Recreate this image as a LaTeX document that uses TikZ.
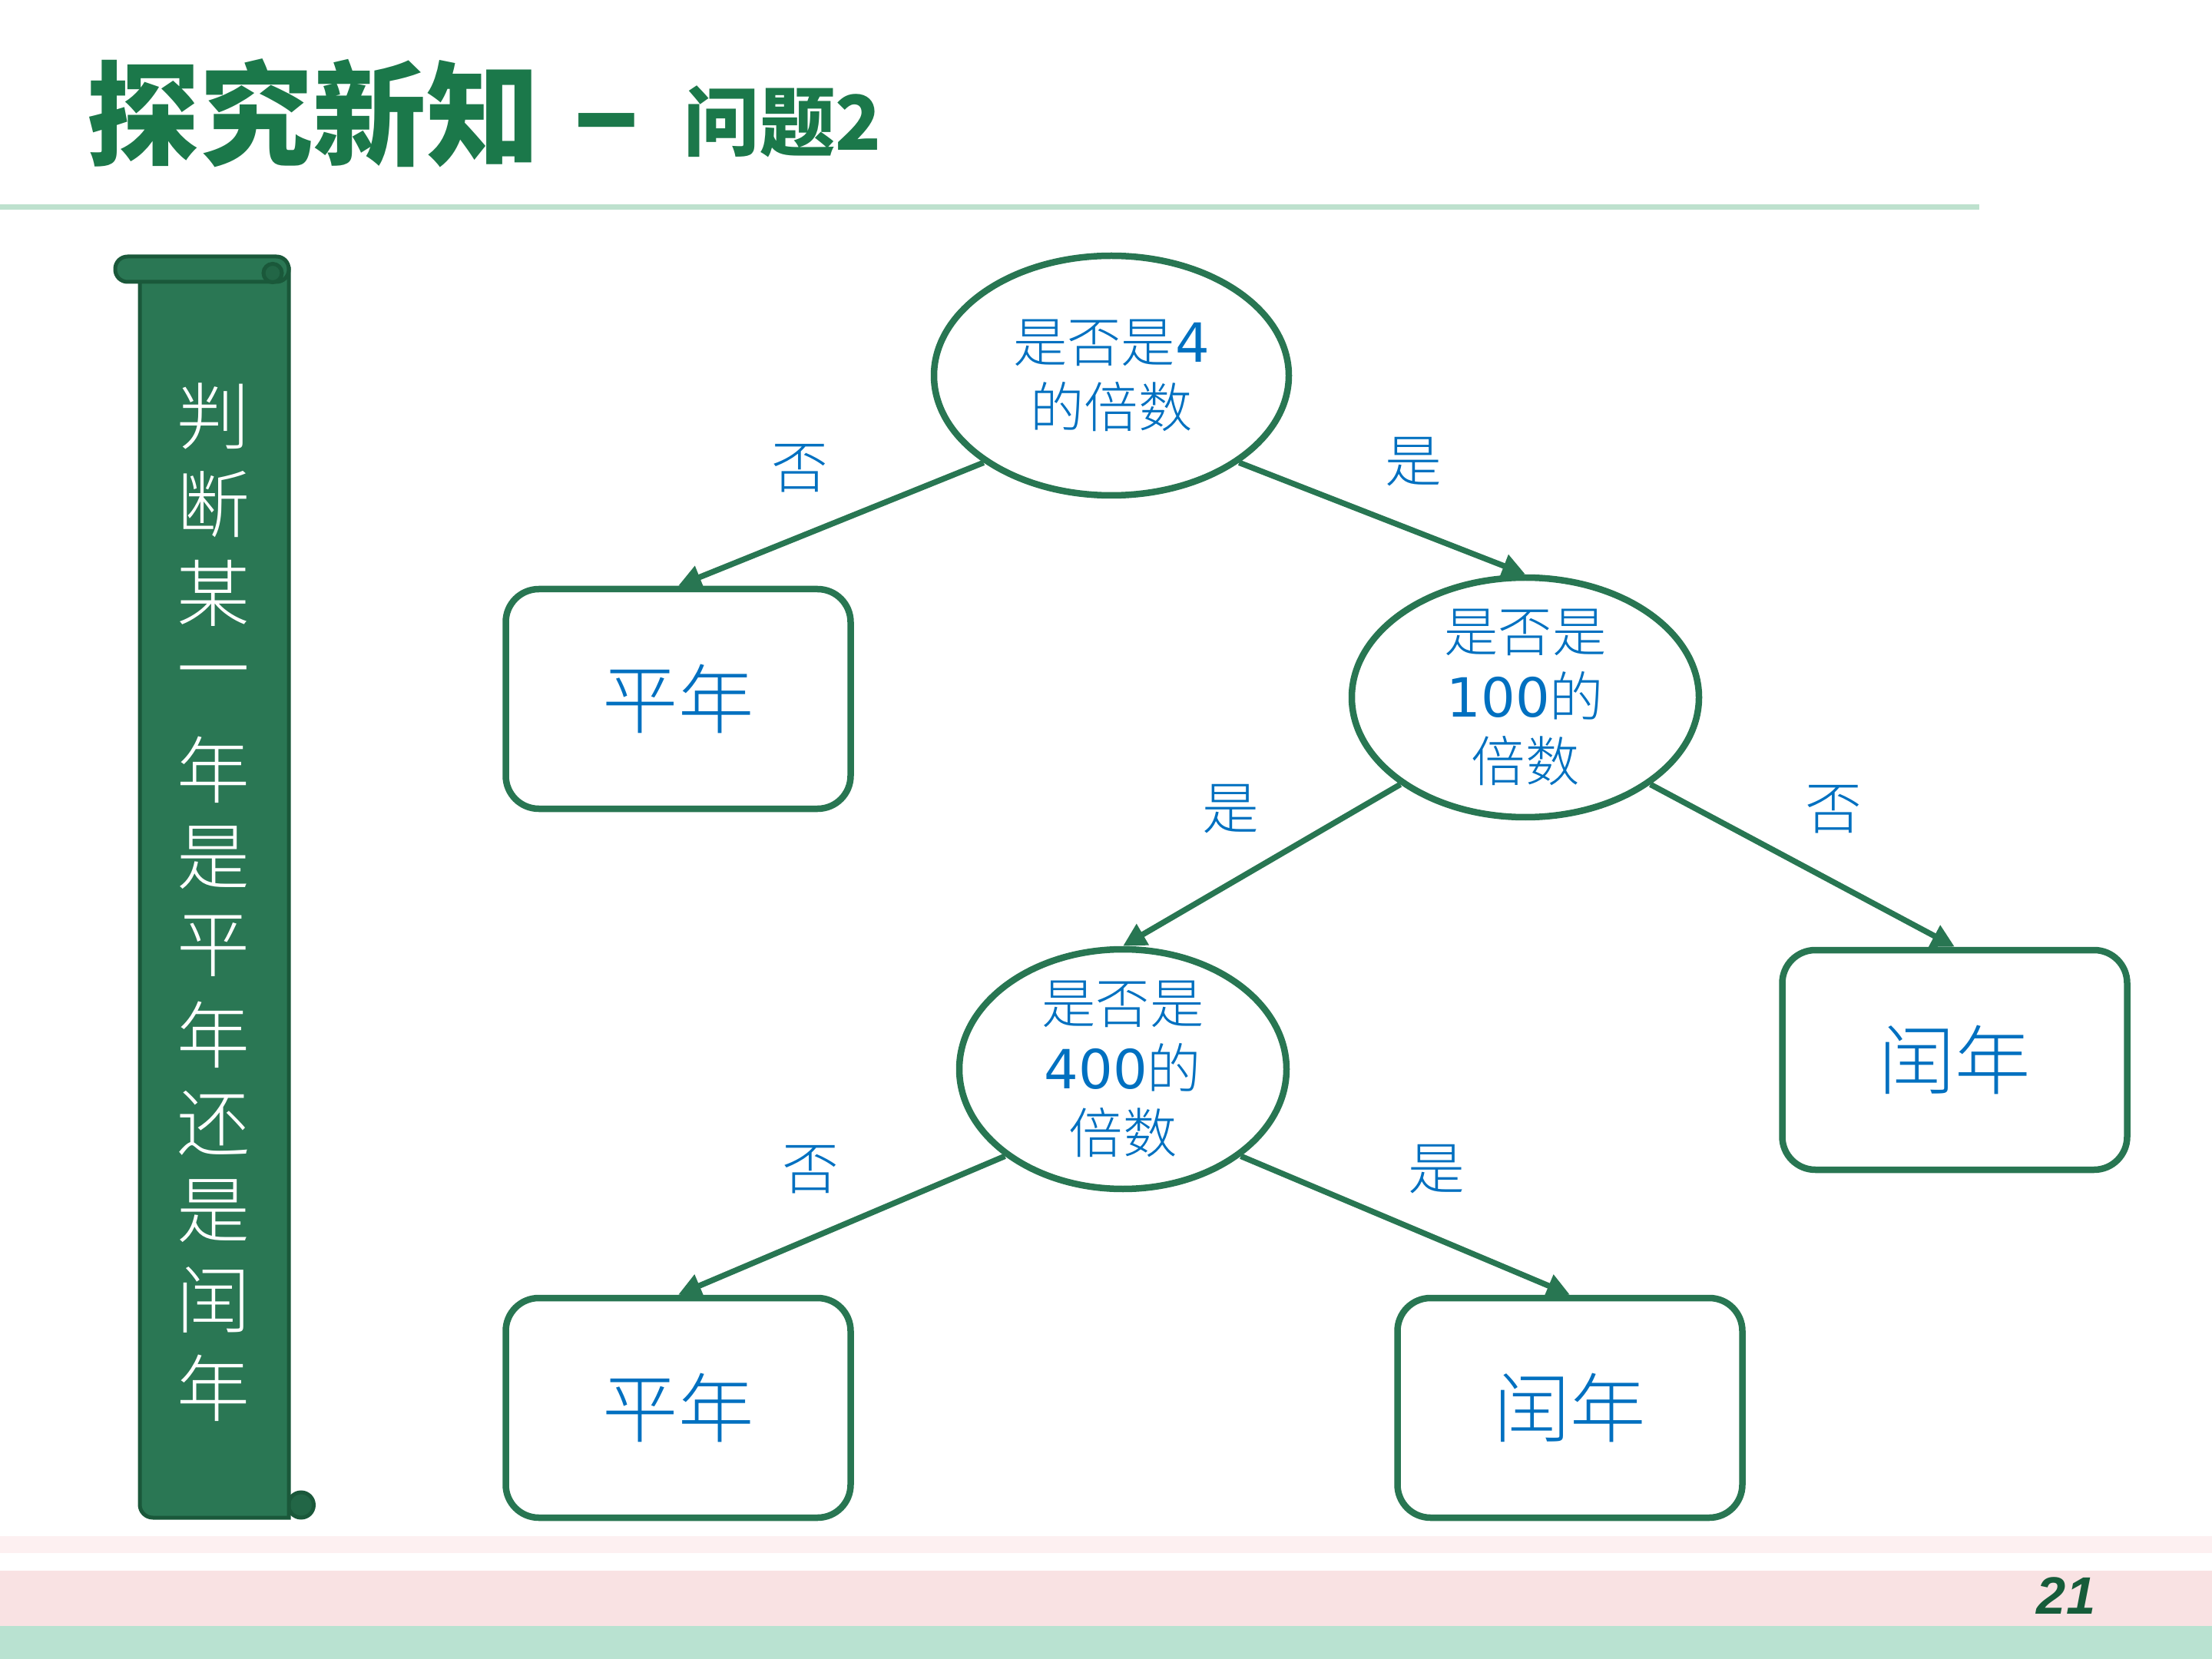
\documentclass[tikz,border=0pt]{standalone}
\usepackage{fontspec}
\setmainfont{Noto Sans CJK SC Light}
\newfontfamily\heavyfont{Noto Sans CJK SC Black}
\newfontfamily\digitfont{DejaVu Sans}
\newfontfamily\pgnumfont{Liberation Sans}
\usepackage{tikz}
\usetikzlibrary{positioning,shapes.geometric,arrows.meta}

\definecolor{treegreen}{RGB}{40,118,82}
\definecolor{askblue}{RGB}{0,112,192}
\definecolor{titlegreen}{RGB}{27,120,74}
\definecolor{rulegreen}{RGB}{190,225,206}
\definecolor{scrollfill}{RGB}{42,119,84}
\definecolor{scrolledge}{RGB}{26,88,58}
\definecolor{scrolldark}{RGB}{34,102,70}
\definecolor{bandpale}{RGB}{253,240,241}
\definecolor{bandpink}{RGB}{249,226,227}
\definecolor{bandmint}{RGB}{185,226,209}
\definecolor{pagegreen}{RGB}{22,92,58}

\begin{document}
\begin{tikzpicture}[
    answer/.style={draw=treegreen, line width=0.85mm, rounded corners=4.3mm,
      minimum width=4.49cm, minimum height=2.86cm, inner sep=0pt,
      font=\fontsize{28}{28}\selectfont, text=askblue},
    ask/.style={draw=treegreen, line width=0.85mm, ellipse, inner sep=0pt,
      minimum height=3.12cm},
    asktext/.style={font=\fontsize{20}{24}\selectfont, text=askblue,
      align=center, inner sep=0pt},
    arr/.style={draw=treegreen, line width=0.75mm,
      -{Triangle[length=3mm,width=3mm]}},
    yesno/.style={font=\fontsize{21}{21}\selectfont, text=askblue, inner sep=0pt},
    scrollpart/.style={draw=scrolledge, line width=0.5mm, fill=scrollfill}
  ]
    \fill[white] (0,0) rectangle (28.8,-21.6);
    \useasboundingbox (0,0) rectangle (28.8,-21.6);

    % Title
    \node[anchor=west, inner sep=0pt, text=titlegreen,
      font=\fontsize{42}{42}\heavyfont] (title) at (1.12,-1.47) {探究新知};
    \node[anchor=west, inner sep=0pt, text=titlegreen,
      font=\fontsize{46}{46}\heavyfont] (dash) at (7.45,-1.76) {–};
    \node[anchor=west, inner sep=0pt, text=titlegreen,
      font=\fontsize{28}{28}\heavyfont] (sub) at (8.90,-1.58) {问题2};
    \draw[rulegreen, line width=0.7mm] (0,-2.70) -- (25.77,-2.70);

    % Scroll on the left
    \draw[scrollpart, fill=scrolldark] (3.92,-19.595) circle (0.165);
    \draw[scrollpart] (1.82,-3.5) -- (1.82,-19.59)
      arc[start angle=180, end angle=270, radius=0.17] -- (3.76,-19.76) -- (3.76,-3.5) -- cycle;
    \draw[scrollpart, rounded corners=1.6mm] (1.50,-3.34) rectangle (3.76,-3.67);
    \draw[scrollpart, fill=scrolldark] (3.55,-3.555) circle (0.12);
    \foreach \ch [count=\i] in {判,断,某,一,年,是,平,年,还,是,闰,年}
      \node[text=white, font=\fontsize{27}{27}\selectfont, inner sep=0pt]
        (s\i) at ({2.78},{-4.27-1.15*\i}) {\ch};

    % Questions
    \node[ask, minimum width=4.62cm,
      label={[asktext]center:是否是{\digitfont 4}\\的倍数}] (q4) at (14.47,-4.89) {};
    \node[ask, minimum width=4.52cm,
      label={[asktext]center:是否是\\{\digitfont 100}的\\倍数}] (q100) at (19.86,-9.08) {};
    \node[ask, minimum width=4.26cm,
      label={[asktext]center:是否是\\{\digitfont 400}的\\倍数}] (q400) at (14.62,-13.92) {};

    % Answers
    \node[answer] (com1) at (8.83,-9.10) {平年};
    \node[answer] (leap1) at (25.45,-13.80) {闰年};
    \node[answer] (com2) at (8.83,-18.33) {平年};
    \node[answer] (leap2) at (20.44,-18.33) {闰年};

    % Branches with yes / no
    \foreach \from/\to/\ans/\anc in {q4.south west/com1/否/south east,
        q4.south east/q100/是/south west, q100.south west/q400/是/south east,
        q100.south east/leap1/否/south west, q400.south west/com2/否/south east,
        q400.south east/leap2/是/south west}
      \draw[arr] (\from) -- node[yesno, anchor=\anc, yshift=0.38cm] {\ans} (\to.north);

    % Footer bands and page number
    \fill[bandpale] (0,-20.00) rectangle (28.8,-20.22);
    \fill[bandpink] (0,-20.45) rectangle (28.8,-21.17);
    \fill[bandmint] (0,-21.17) rectangle (28.8,-21.6);
    \node[text=pagegreen, inner sep=0pt,
      font={\fontsize{19.5}{19.5}\pgnumfont\bfseries\itshape}] (pagenum) at (26.90,-20.78) {21};
\end{tikzpicture}
\end{document}
